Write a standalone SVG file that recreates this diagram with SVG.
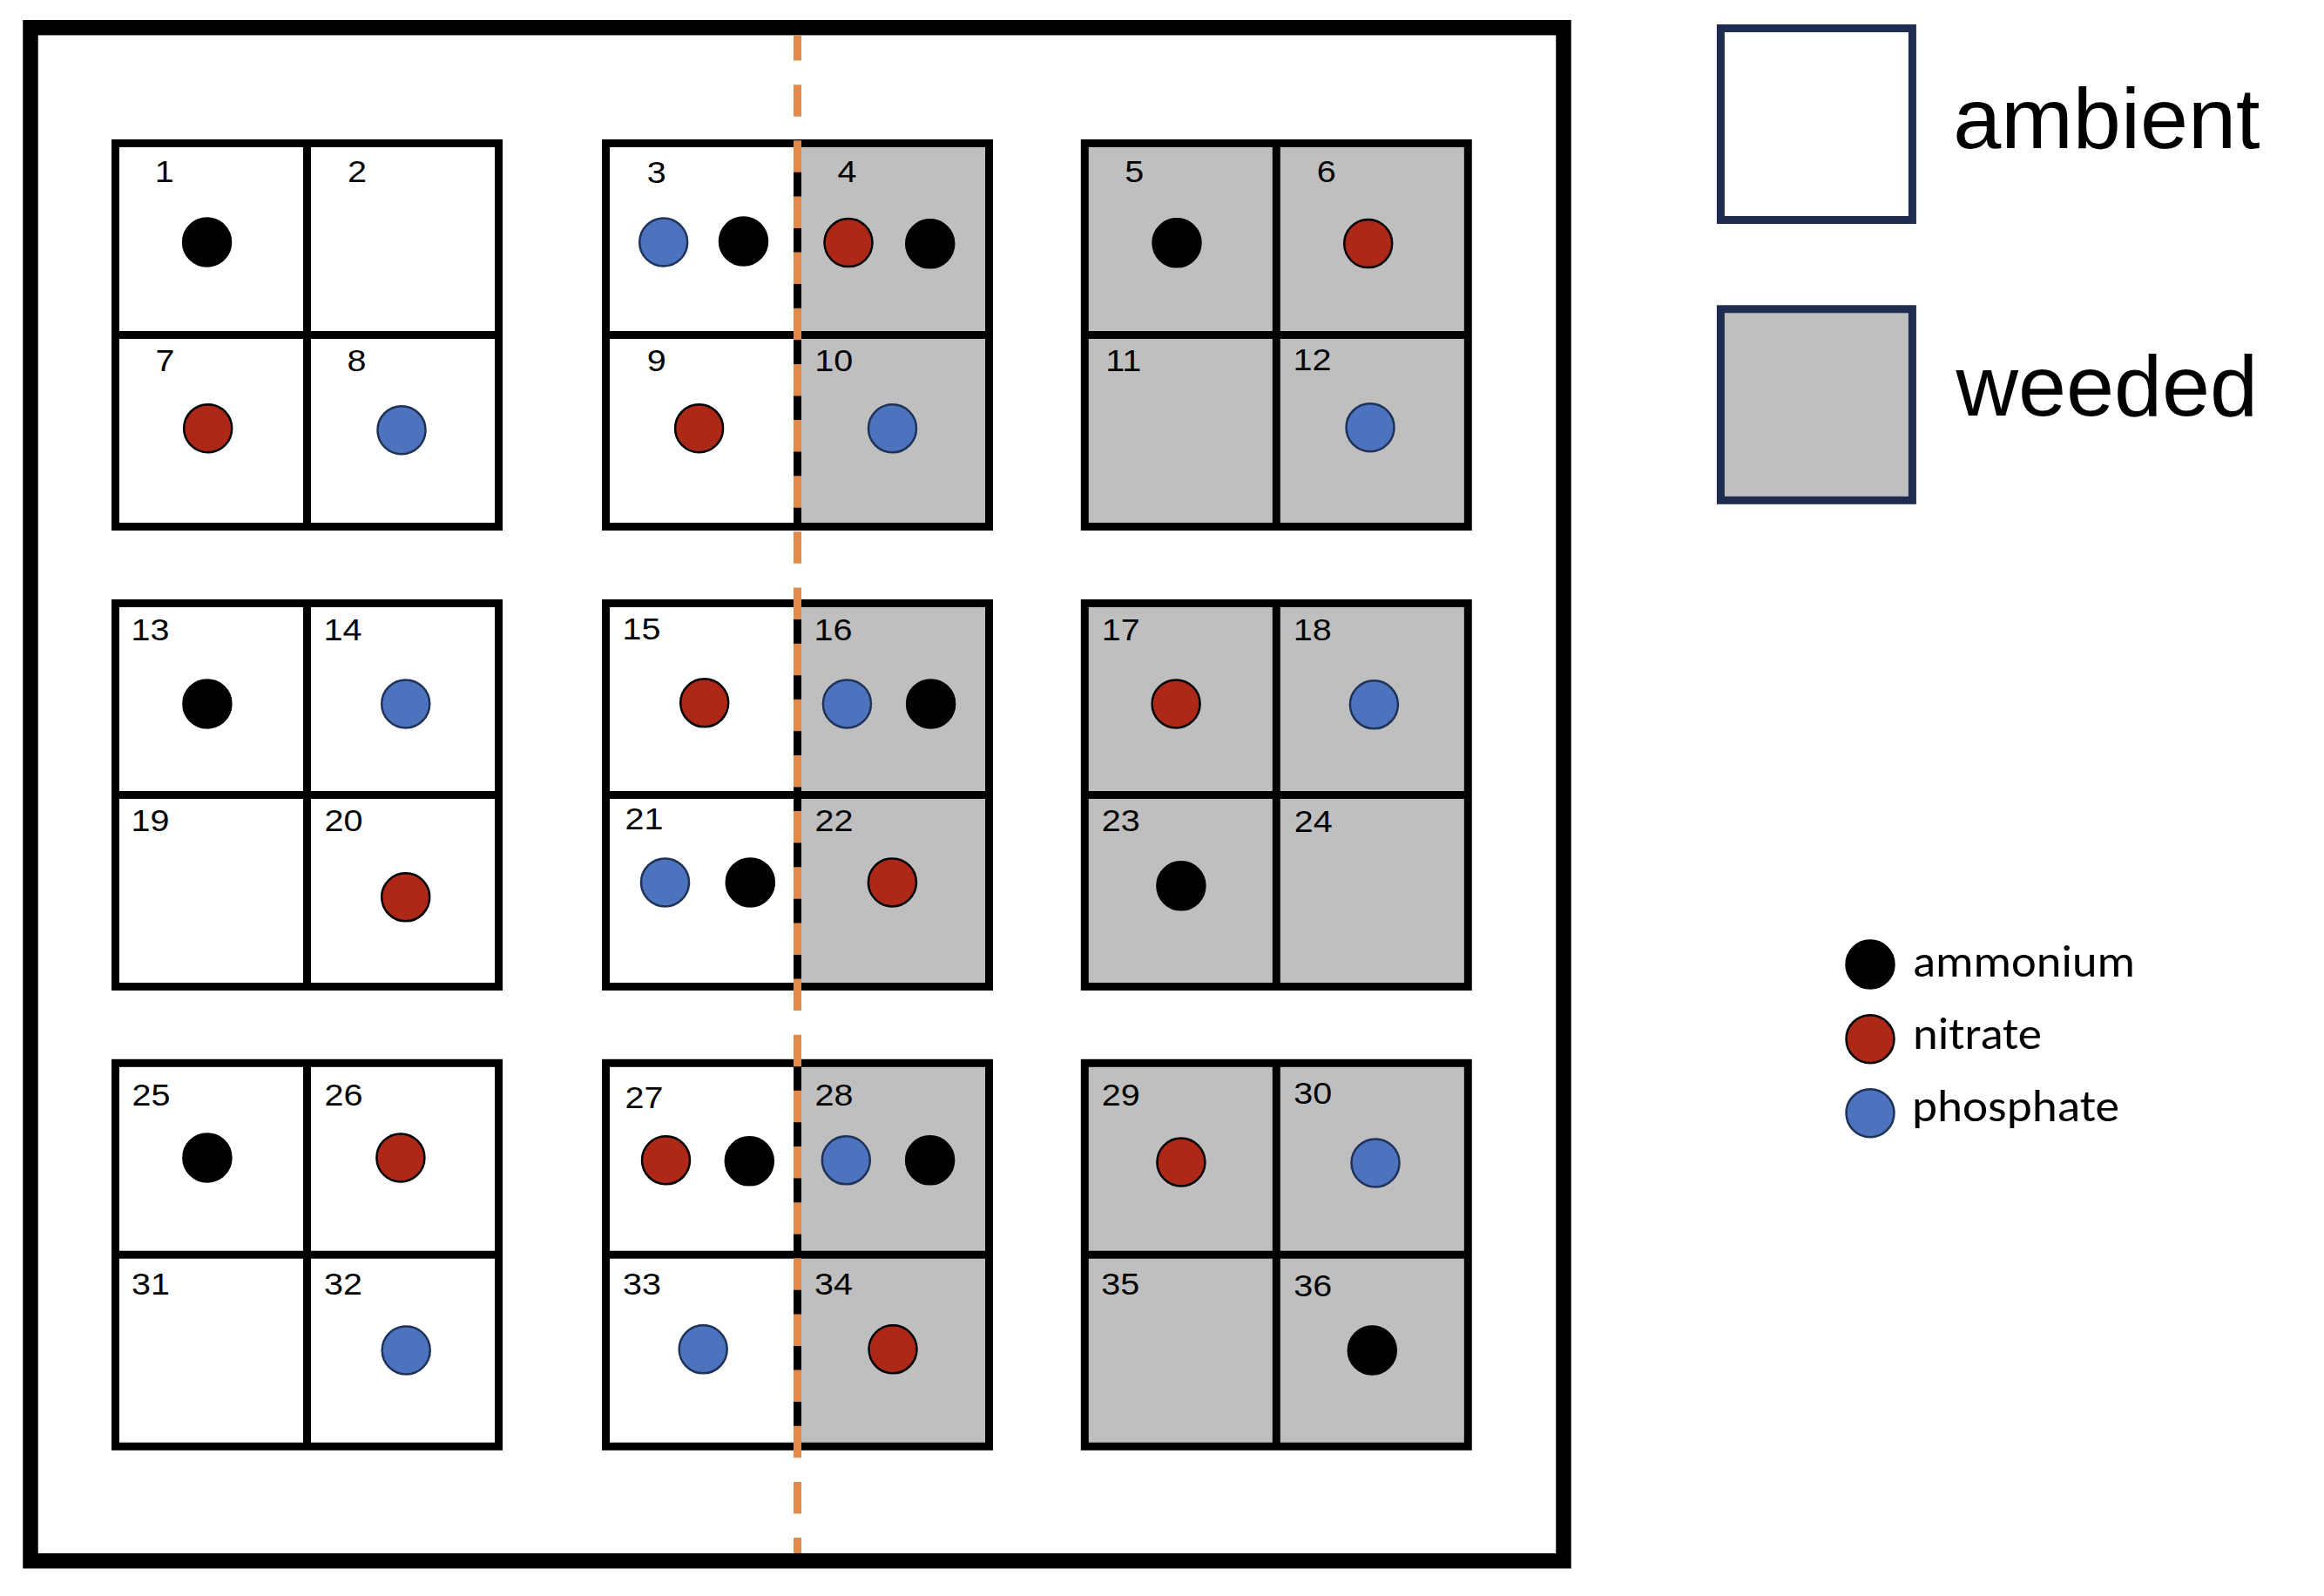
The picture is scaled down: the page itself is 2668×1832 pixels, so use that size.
<svg xmlns="http://www.w3.org/2000/svg" width="2668" height="1832" viewBox="0 0 2668 1832">
<style>
.bg{fill:#ffffff}
.w{fill:#ffffff}
.g{fill:#BFBFBF}
.blk{fill:none;stroke:#000000;stroke-width:9}
.ln{stroke:#000000;stroke-width:9}
.num{font-family:"Liberation Sans",Arial,Helvetica,sans-serif;font-size:35px;fill:#000000}
.nh{fill:#000000;stroke:#000000;stroke-width:2.5}
.no3{fill:#AE2818;stroke:#000000;stroke-width:2.5}
.po4{fill:#4E73BE;stroke:#1F3359;stroke-width:2.5}
.leg{fill:none;stroke:#1F2C4F;stroke-width:9}
.big{font-family:"Liberation Sans",Arial,Helvetica,sans-serif;font-size:99px;fill:#000000}
.sm{font-family:Carlito,Calibri,Lato,"Open Sans",sans-serif;font-size:52px;fill:#000000}
.div{stroke:#E38949;stroke-width:9;stroke-dasharray:36.5 27.65;fill:none}
</style>
<rect class="bg" x="0" y="0" width="2668" height="1832"/>

<!-- Row 1 -->
<g id="block-1">
  <rect class="w" x="132.5" y="164.5" width="440" height="440"/>
  <g id="plot-1"><text class="num" transform="translate(177.8,209.4) scale(1.13,1)">1</text><circle class="nh" cx="237.6" cy="278" r="27.5"/></g>
  <g id="plot-2"><text class="num" transform="translate(399,209.4) scale(1.13,1)">2</text></g>
  <g id="plot-7"><text class="num" transform="translate(178.6,426.2) scale(1.13,1)">7</text><circle class="no3" cx="238.7" cy="491.7" r="27.5"/></g>
  <g id="plot-8"><text class="num" transform="translate(398.4,426.2) scale(1.13,1)">8</text><circle class="po4" cx="461" cy="493.7" r="27.5"/></g>
  <rect class="blk" x="132.5" y="164.5" width="440" height="440"/>
  <line class="ln" x1="352.5" y1="164.5" x2="352.5" y2="604.5"/>
  <line class="ln" x1="132.5" y1="384.5" x2="572.5" y2="384.5"/>
</g>

<g id="block-2">
  <rect class="w" x="695.5" y="164.5" width="220" height="440"/>
  <rect class="g" x="915.5" y="164.5" width="220" height="440"/>
  <g id="plot-3"><text class="num" transform="translate(742.8,210) scale(1.13,1)">3</text><circle class="po4" cx="761.7" cy="278" r="27.5"/><circle class="nh" cx="853.5" cy="277" r="27.5"/></g>
  <g id="plot-4"><text class="num" transform="translate(961.5,208.5) scale(1.13,1)">4</text><circle class="no3" cx="974" cy="278.6" r="27.5"/><circle class="nh" cx="1067.7" cy="279.8" r="27.5"/></g>
  <g id="plot-9"><text class="num" transform="translate(742.8,426.2) scale(1.13,1)">9</text><circle class="no3" cx="802.6" cy="491.7" r="27.5"/></g>
  <g id="plot-10"><text class="num" transform="translate(935.3,426.2) scale(1.13,1)">10</text><circle class="po4" cx="1024.5" cy="491.8" r="27.5"/></g>
  <rect class="blk" x="695.5" y="164.5" width="440" height="440"/>
  <line class="ln" x1="915.5" y1="164.5" x2="915.5" y2="604.5"/>
  <line class="ln" x1="695.5" y1="384.5" x2="1135.5" y2="384.5"/>
</g>

<g id="block-3">
  <rect class="g" x="1245.3" y="164.5" width="440" height="440"/>
  <g id="plot-5"><text class="num" transform="translate(1291.2,209.4) scale(1.13,1)">5</text><circle class="nh" cx="1351" cy="278.8" r="27.5"/></g>
  <g id="plot-6"><text class="num" transform="translate(1511.8,209.4) scale(1.13,1)">6</text><circle class="no3" cx="1570.7" cy="279.6" r="27.5"/></g>
  <g id="plot-11"><text class="num" transform="translate(1269.2,425.8) scale(1.13,1)">11</text></g>
  <g id="plot-12"><text class="num" transform="translate(1484.5,425) scale(1.13,1)">12</text><circle class="po4" cx="1573" cy="490.7" r="27.5"/></g>
  <rect class="blk" x="1245.3" y="164.5" width="440" height="440"/>
  <line class="ln" x1="1465.3" y1="164.5" x2="1465.3" y2="604.5"/>
  <line class="ln" x1="1245.3" y1="384.5" x2="1685.3" y2="384.5"/>
</g>

<!-- Row 2 -->
<g id="block-4">
  <rect class="w" x="132.5" y="692.5" width="440" height="440"/>
  <g id="plot-13"><text class="num" transform="translate(150.4,735) scale(1.13,1)">13</text><circle class="nh" cx="237.9" cy="807.9" r="27.5"/></g>
  <g id="plot-14"><text class="num" transform="translate(371.4,735) scale(1.13,1)">14</text><circle class="po4" cx="465.7" cy="807.9" r="27.5"/></g>
  <g id="plot-19"><text class="num" transform="translate(150.4,953.6) scale(1.13,1)">19</text></g>
  <g id="plot-20"><text class="num" transform="translate(372.4,953.6) scale(1.13,1)">20</text><circle class="no3" cx="465.7" cy="1029.8" r="27.5"/></g>
  <rect class="blk" x="132.5" y="692.5" width="440" height="440"/>
  <line class="ln" x1="352.5" y1="692.5" x2="352.5" y2="1132.5"/>
  <line class="ln" x1="132.5" y1="912.5" x2="572.5" y2="912.5"/>
</g>

<g id="block-5">
  <rect class="w" x="695.5" y="692.5" width="220" height="440"/>
  <rect class="g" x="915.5" y="692.5" width="220" height="440"/>
  <g id="plot-15"><text class="num" transform="translate(714.4,733.6) scale(1.13,1)">15</text><circle class="no3" cx="808.7" cy="806.8" r="27.5"/></g>
  <g id="plot-16"><text class="num" transform="translate(934.4,735) scale(1.13,1)">16</text><circle class="po4" cx="972.4" cy="807.9" r="27.5"/><circle class="nh" cx="1068.6" cy="807.9" r="27.5"/></g>
  <g id="plot-21"><text class="num" transform="translate(717.5,951.8) scale(1.13,1)">21</text><circle class="po4" cx="763.5" cy="1012.9" r="27.5"/><circle class="nh" cx="861.3" cy="1012.9" r="27.5"/></g>
  <g id="plot-22"><text class="num" transform="translate(935.4,953.6) scale(1.13,1)">22</text><circle class="no3" cx="1024.4" cy="1012.9" r="27.5"/></g>
  <rect class="blk" x="695.5" y="692.5" width="440" height="440"/>
  <line class="ln" x1="915.5" y1="692.5" x2="915.5" y2="1132.5"/>
  <line class="ln" x1="695.5" y1="912.5" x2="1135.5" y2="912.5"/>
</g>

<g id="block-6">
  <rect class="g" x="1245.3" y="692.5" width="440" height="440"/>
  <g id="plot-17"><text class="num" transform="translate(1264.7,735) scale(1.13,1)">17</text><circle class="no3" cx="1350.1" cy="807.9" r="27.5"/></g>
  <g id="plot-18"><text class="num" transform="translate(1484.7,735) scale(1.13,1)">18</text><circle class="po4" cx="1577.4" cy="808.8" r="27.5"/></g>
  <g id="plot-23"><text class="num" transform="translate(1264.8,954.3) scale(1.13,1)">23</text><circle class="nh" cx="1355.9" cy="1016.8" r="27.5"/></g>
  <g id="plot-24"><text class="num" transform="translate(1485.8,955) scale(1.13,1)">24</text></g>
  <rect class="blk" x="1245.3" y="692.5" width="440" height="440"/>
  <line class="ln" x1="1465.3" y1="692.5" x2="1465.3" y2="1132.5"/>
  <line class="ln" x1="1245.3" y1="912.5" x2="1685.3" y2="912.5"/>
</g>

<!-- Row 3 -->
<g id="block-7">
  <rect class="w" x="132.5" y="1220.3" width="440" height="440"/>
  <g id="plot-25"><text class="num" transform="translate(151.4,1269.4) scale(1.13,1)">25</text><circle class="nh" cx="237.9" cy="1328.9" r="27.5"/></g>
  <g id="plot-26"><text class="num" transform="translate(372.4,1269.4) scale(1.13,1)">26</text><circle class="no3" cx="459.9" cy="1328.9" r="27.5"/></g>
  <g id="plot-31"><text class="num" transform="translate(150.9,1486.4) scale(1.13,1)">31</text></g>
  <g id="plot-32"><text class="num" transform="translate(371.9,1486.4) scale(1.13,1)">32</text><circle class="po4" cx="466.2" cy="1549.9" r="27.5"/></g>
  <rect class="blk" x="132.5" y="1220.3" width="440" height="440"/>
  <line class="ln" x1="352.5" y1="1220.3" x2="352.5" y2="1660.3"/>
  <line class="ln" x1="132.5" y1="1440.3" x2="572.5" y2="1440.3"/>
</g>

<g id="block-8">
  <rect class="w" x="695.5" y="1220.3" width="220" height="440"/>
  <rect class="g" x="915.5" y="1220.3" width="220" height="440"/>
  <g id="plot-27"><text class="num" transform="translate(717.5,1271.5) scale(1.13,1)">27</text><circle class="no3" cx="764.5" cy="1331.8" r="27.5"/><circle class="nh" cx="860.3" cy="1332.8" r="27.5"/></g>
  <g id="plot-28"><text class="num" transform="translate(935.4,1269.4) scale(1.13,1)">28</text><circle class="po4" cx="971.3" cy="1331.8" r="27.5"/><circle class="nh" cx="1067.6" cy="1331.8" r="27.5"/></g>
  <g id="plot-33"><text class="num" transform="translate(714.9,1485.6) scale(1.13,1)">33</text><circle class="po4" cx="807.2" cy="1548.8" r="27.5"/></g>
  <g id="plot-34"><text class="num" transform="translate(934.9,1486.4) scale(1.13,1)">34</text><circle class="no3" cx="1025" cy="1548.8" r="27.5"/></g>
  <rect class="blk" x="695.5" y="1220.3" width="440" height="440"/>
  <line class="ln" x1="915.5" y1="1220.3" x2="915.5" y2="1660.3"/>
  <line class="ln" x1="695.5" y1="1440.3" x2="1135.5" y2="1440.3"/>
</g>

<g id="block-9">
  <rect class="g" x="1245.3" y="1220.3" width="440" height="440"/>
  <g id="plot-29"><text class="num" transform="translate(1264.8,1269.4) scale(1.13,1)">29</text><circle class="no3" cx="1355.9" cy="1334" r="27.5"/></g>
  <g id="plot-30"><text class="num" transform="translate(1485.3,1267.3) scale(1.13,1)">30</text><circle class="po4" cx="1579" cy="1334.9" r="27.5"/></g>
  <g id="plot-35"><text class="num" transform="translate(1264.3,1486.4) scale(1.13,1)">35</text></g>
  <g id="plot-36"><text class="num" transform="translate(1485.3,1487.7) scale(1.13,1)">36</text><circle class="nh" cx="1575.3" cy="1550" r="27.5"/></g>
  <rect class="blk" x="1245.3" y="1220.3" width="440" height="440"/>
  <line class="ln" x1="1465.3" y1="1220.3" x2="1465.3" y2="1660.3"/>
  <line class="ln" x1="1245.3" y1="1440.3" x2="1685.3" y2="1440.3"/>
</g>

<!-- dividing dashed line -->
<g id="connectors">
  <line class="div" x1="915.5" y1="41" x2="915.5" y2="1783" stroke-dashoffset="8"/>
</g>

<!-- outer border -->
<g id="field">
  <rect x="35" y="31.7" width="1760" height="1760" fill="none" stroke="#000000" stroke-width="17.5"/>
</g>

<!-- legend: treatments -->
<g id="legend-ambient">
  <rect class="leg" x="1975.4" y="32.5" width="220" height="220" fill="#ffffff"/>
  <text class="big" x="2242.3" y="170">ambient</text>
</g>
<g id="legend-weeded">
  <rect x="1975.4" y="354.8" width="220" height="219.5" fill="#BFBFBF" stroke="#1F2C4F" stroke-width="9"/>
  <text class="big" x="2245.4" y="476.8">weeded</text>
</g>

<!-- legend: nutrients -->
<g id="legend-ammonium">
  <circle class="nh" cx="2147" cy="1107" r="27.5"/>
  <text class="sm" x="2196" y="1121" textLength="255" lengthAdjust="spacingAndGlyphs">ammonium</text>
</g>
<g id="legend-nitrate">
  <circle class="no3" cx="2147" cy="1192.7" r="27.5"/>
  <text class="sm" x="2196" y="1204.3" textLength="148" lengthAdjust="spacingAndGlyphs">nitrate</text>
</g>
<g id="legend-phosphate">
  <circle class="po4" cx="2147" cy="1277.7" r="27.5"/>
  <text class="sm" x="2195" y="1287" textLength="238" lengthAdjust="spacingAndGlyphs">phosphate</text>
</g>
</svg>
